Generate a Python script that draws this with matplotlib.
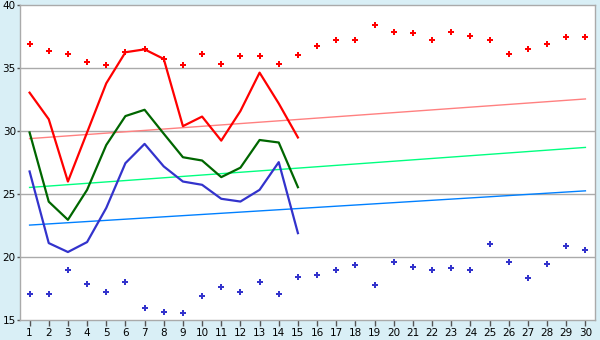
import matplotlib
matplotlib.use('Agg')
import matplotlib.pyplot as plt
import numpy as np

days = list(range(1, 31))
line_days = list(range(1, 16))

# upper and lower point series
red_dots = [36.9, 36.35, 36.13, 35.48, 35.24, 36.27, 36.51, 35.74, 35.24, 36.13,
            35.32, 35.95, 35.95, 35.32, 36.03, 36.75, 37.22, 37.22, 38.41, 37.86,
            37.78, 37.22, 37.86, 37.54, 37.22, 36.11, 36.51, 36.9, 37.46, 37.46]
blue_dots = [17.09, 17.09, 18.96, 17.86, 17.25, 18.04, 15.95, 15.66, 15.56, 16.9,
             17.62, 17.25, 18.02, 17.06, 18.41, 18.57, 18.96, 19.37, 17.78, 19.6,
             19.2, 18.96, 19.13, 18.96, 21.03, 19.6, 18.33, 19.44, 20.87, 20.56]

# lines for the first 15 days
red_line = [33.06, 30.95, 26.0, 29.9, 33.8, 36.27, 36.5, 35.74, 30.4, 31.16,
            29.25, 31.6, 34.65, 32.2, 29.5]
green_line = [29.9, 24.4, 22.96, 25.34, 28.9, 31.2, 31.7, 29.8, 27.93, 27.67,
              26.35, 27.1, 29.3, 29.1, 25.55]
blue_line = [26.8, 21.11, 20.4, 21.19, 23.9, 27.46, 28.99, 27.2, 26.0, 25.74,
             24.63, 24.41, 25.34, 27.54, 21.9]

# straight trend lines (first and last day)
trend_days = [1, 30]
pink_trend = [29.41, 32.56]
lgreen_trend = [25.53, 28.71]
lblue_trend = [22.54, 25.26]

fig = plt.figure(figsize=(6, 3.4), dpi=100, facecolor='#d9eff6')
ax = fig.add_axes([20 / 600, 20 / 340, 575 / 600, 314.7 / 340])
ax.set_facecolor('white')

for y in [20, 25, 30, 35]:
    ax.axhline(y, color='#aaaaaa', lw=1, zorder=1)

ax.plot(trend_days, pink_trend, color='#ff8080', lw=1, zorder=2)
ax.plot(trend_days, lgreen_trend, color='#00ff80', lw=1, zorder=2)
ax.plot(trend_days, lblue_trend, color='#0080ff', lw=1, zorder=2)

ax.plot(line_days, red_line, color='#ff0000', lw=1.6, zorder=3)
ax.plot(line_days, green_line, color='#006600', lw=1.6, zorder=3)
ax.plot(line_days, blue_line, color='#3333cc', lw=1.6, zorder=3)

ax.plot(days, red_dots, ls='none', marker='P', ms=4.8, color='#ff0000',
        markeredgewidth=0, zorder=4)
ax.plot(days, blue_dots, ls='none', marker='P', ms=4.8, color='#3333cc',
        markeredgewidth=0, zorder=4)

ax.set_xlim(0.5, 30.5)
ax.set_ylim(15, 40)
ax.set_xticks(days)
ax.set_yticks([15, 20, 25, 30, 35, 40])
ax.tick_params(axis='x', direction='out', length=4, width=1, color='#555555',
               labelsize=7.5, pad=1.5)
ax.tick_params(axis='y', direction='out', length=2, width=1, color='#555555',
               labelsize=7.5, pad=1)

for s in ax.spines.values():
    s.set_color('#aaaaaa')
    s.set_linewidth(1)

fig.savefig('out.png', dpi=100, facecolor=fig.get_facecolor())
